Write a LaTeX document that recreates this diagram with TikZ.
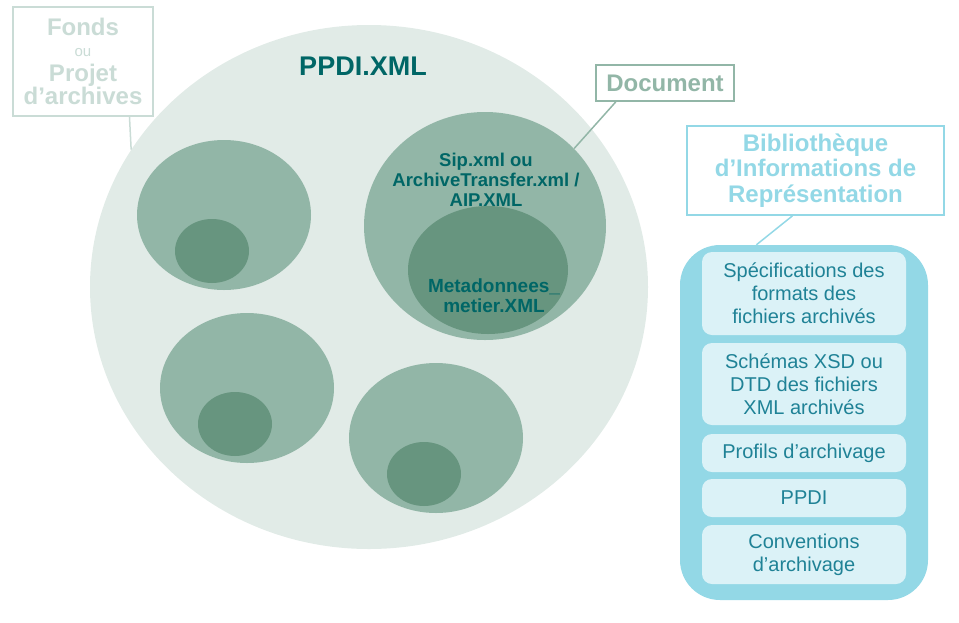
\documentclass[tikz,border=0pt]{standalone}
\usepackage{fontspec}
\setmainfont{Liberation Sans}
\usetikzlibrary{shapes.geometric, positioning}

\definecolor{fondsbg}{HTML}{E1EBE7}
\definecolor{docmid}{HTML}{92B6A7}
\definecolor{docdark}{HTML}{67957F}
\definecolor{tealtext}{HTML}{006666}
\definecolor{fondsgrey}{HTML}{CADCD6}
\definecolor{biblioblue}{HTML}{93D8E6}
\definecolor{biblioitem}{HTML}{DBF2F7}
\definecolor{itemtext}{HTML}{1F8296}

\begin{document}
\begin{tikzpicture}[
    x=1pt, y=-1pt,
    blob/.style={ellipse, inner sep=0pt},
    tag/.style={draw, line width=1.8pt, fill=white, align=center, inner sep=0pt},
    item/.style={rounded corners=10pt, fill=biblioitem, minimum width=204pt, align=center,
        inner sep=0pt, text=itemtext, font=\fontsize{20}{23}\selectfont},
    link/.style={line width=1.5pt}
]
\useasboundingbox (0,0) rectangle (959,622);

% Fonds
\node[blob, fill=fondsbg, minimum width=558pt, minimum height=524pt] (fonds) at (369,287) {};
\node[font=\bfseries\fontsize{27}{30}\selectfont, text=tealtext] (ppdi) at (363,66) {PPDI.XML};

% Documents
\node[blob, fill=docmid, minimum width=242pt, minimum height=228pt] (doc) at (485,226) {};
\node[blob, fill=docdark, minimum width=160pt, minimum height=128pt] (meta) at (488,270) {};
\foreach \cx/\cy/\n in {224/215/a, 247/388/b, 436/438/c} {
    \node[blob, fill=docmid, minimum width=174pt, minimum height=150pt] (doc\n) at (\cx,\cy) {};
    \node[blob, fill=docdark, minimum width=74pt, minimum height=64pt] (meta\n) at ({\cx-12},{\cy+36}) {};
}
\node[align=center, text=tealtext, font=\bfseries\fontsize{18.5}{20}\selectfont] (sip) at (486,180)
    {Sip.xml ou\\ArchiveTransfer.xml /\\AIP.XML};
\node[align=center, text=tealtext, font=\bfseries\fontsize{19}{20}\selectfont] (metatext) at (494,296)
    {Metadonnees\_\\metier.XML};

% Labels
\node[tag, draw=fondsgrey, text=fondsgrey, minimum width=140pt, minimum height=109pt,
    font=\bfseries\fontsize{24}{23}\selectfont] (fondstag) at (83,61.5)
    {Fonds\\[-2pt]{\mdseries\fontsize{15}{17}\selectfont ou}\\[2pt]Projet\\d’archives};
\node[tag, draw=docmid, text=docmid, minimum width=138pt, minimum height=36pt,
    font=\bfseries\fontsize{24}{26}\selectfont] (doctag) at (665,83) {Document};
\node[tag, draw=biblioblue, text=biblioblue, minimum width=257pt, minimum height=89pt,
    font=\bfseries\fontsize{24}{25.5}\selectfont] (bibliotag) at (815.5,170.5)
    {Bibliothèque\\d’Informations de\\Représentation};

% Bibliotheque
\node[rounded corners=40pt, fill=biblioblue, minimum width=248pt, minimum height=355pt] (biblio) at (804,422.5) {};
\node[item, minimum height=83pt] (spec) at (804,293.5) {Spécifications des\\formats des\\fichiers archivés};
\node[item, minimum height=82pt] (xsd) at (804,384) {Schémas XSD ou\\DTD des fichiers\\XML archivés};
\node[item, minimum height=38pt] (profils) at (804,453) {Profils d’archivage};
\node[item, minimum height=38pt] (ppdiitem) at (804,498) {PPDI};
\node[item, minimum height=59pt] (conv) at (804,554.5) {Conventions\\d’archivage};

% Connections
\draw[link, fondsgrey] (fondstag.-50) -- (fonds.150.6);
\draw[link, docmid] (doctag.201) -- (doc.41);
\draw[link, biblioblue] (bibliotag.243) -- (biblio.105);

\end{tikzpicture}
\end{document}
